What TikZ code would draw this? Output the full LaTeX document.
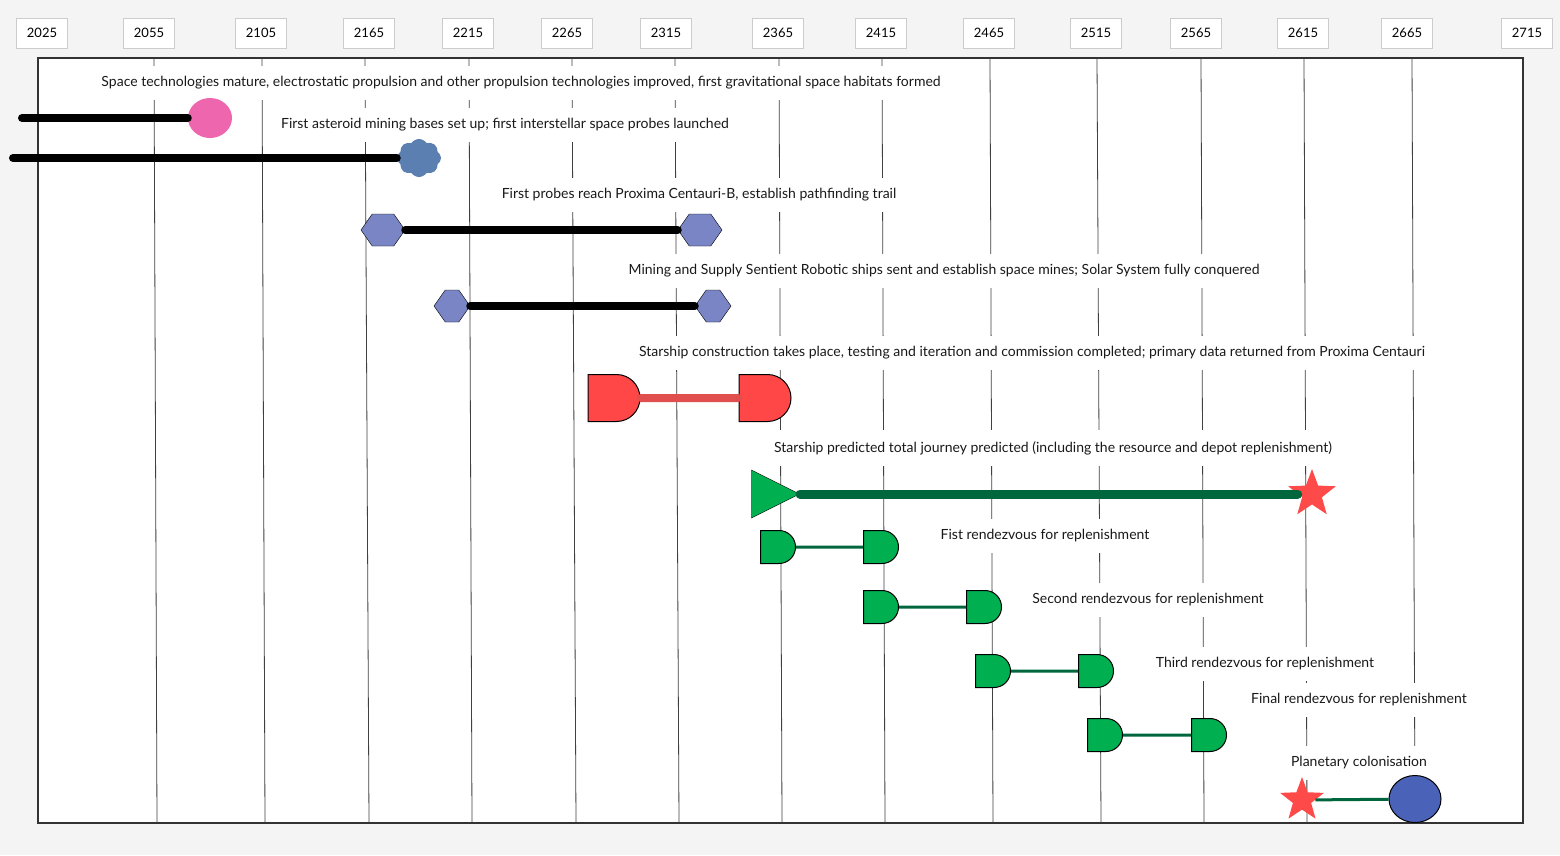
\documentclass[tikz,border=0pt]{standalone}
\usepackage{fontspec}
\setmainfont{Lato}
\usepackage{tikz}
\usetikzlibrary{shapes.geometric, shapes.symbols, shapes.misc}
\definecolor{pagegray}{HTML}{F4F4F4}
\definecolor{pinkdot}{HTML}{EE66AE}
\definecolor{cloudblue}{HTML}{5B7FB0}
\definecolor{hexblue}{HTML}{7A85C6}
\definecolor{gatered}{HTML}{FF4747}
\definecolor{barred}{HTML}{E04E4E}
\definecolor{gategreen}{HTML}{00B050}
\definecolor{bargreen}{HTML}{00663D}
\definecolor{starred}{HTML}{FF4A4A}
\definecolor{planetblue}{HTML}{4A63B8}
\tikzset{
  yearbox/.style={ draw=black!20, fill=white, minimum width=51, minimum height=30, inner sep=0, font=\fontsize{13}{14}\selectfont }
}
\tikzset{
  caption/.style={ fill=white, inner xsep=4, inner ysep=11, text=black!90 }
}
\tikzset{
  gridline/.style={ black!75, line width=0.8 }
}
\tikzset{
  hexa/.style={ signal, signal to=east and west, signal pointer angle=110, draw, fill=hexblue, minimum height=32, inner sep=0 }
}
\tikzset{
  dgate/.style={ rounded rectangle, rounded rectangle left arc=none, draw, line width=1, inner sep=0 }
}
\tikzset{
  blackbar/.style={ line width=8, line cap=round, black }
}
\tikzset{
  redbar/.style={ line width=8, line cap=round, barred }
}
\tikzset{
  greenbar/.style={ line width=9, line cap=round, bargreen }
}
\tikzset{
  greenlink/.style={ line width=3, bargreen }
}
\tikzset{
  redstar/.style={ star, star points=5, star point ratio=2.4, fill=starred, inner sep=0 }
}
\begin{document}
\begin{tikzpicture}[x=1pt, y=-1pt, font=\fontsize{14}{16}\selectfont]
  \useasboundingbox (0,0) rectangle (1560,855);
  \fill[pagegray] (0,0) rectangle (1560,855);
  \draw[black!80, fill=white, line width=1.5] (38,58) rectangle (1523,823);
  % time grid
  \draw[gridline] (154,58) -- (157,823);
  \draw[gridline] (262,58) -- (265,823);
  \draw[gridline] (365,58) -- (369,823);
  \draw[gridline] (469,58) -- (472,823);
  \draw[gridline] (572,58) -- (576,823);
  \draw[gridline] (675,58) -- (679,823);
  \draw[gridline] (779,58) -- (782,823);
  \draw[gridline] (882,58) -- (885,823);
  \draw[gridline] (990,58) -- (993,823);
  \draw[gridline] (1097,58) -- (1101,823);
  \draw[gridline] (1201,58) -- (1204,823);
  \draw[gridline] (1304,58) -- (1307,823);
  \draw[gridline] (1412,58) -- (1415,823);
  % years
  \node[yearbox] (y2025) at (42,33) {2025};
  \node[yearbox] (y2055) at (149,33) {2055};
  \node[yearbox] (y2105) at (261,33) {2105};
  \node[yearbox] (y2165) at (369,33) {2165};
  \node[yearbox] (y2215) at (468,33) {2215};
  \node[yearbox] (y2265) at (567,33) {2265};
  \node[yearbox] (y2315) at (666,33) {2315};
  \node[yearbox] (y2365) at (778,33) {2365};
  \node[yearbox] (y2415) at (881,33) {2415};
  \node[yearbox] (y2465) at (989,33) {2465};
  \node[yearbox] (y2515) at (1096,33) {2515};
  \node[yearbox] (y2565) at (1196,33) {2565};
  \node[yearbox] (y2615) at (1303,33) {2615};
  \node[yearbox] (y2665) at (1407,33) {2665};
  \node[yearbox] (y2715) at (1527,33) {2715};
  % captions
  \node[caption] (t1) at (521,83) {Space technologies mature, electrostatic propulsion and other propulsion technologies improved, first gravitational space habitats formed};
  \node[caption] (t2) at (505,125) {First asteroid mining bases set up; first interstellar space probes launched};
  \node[caption] (t3) at (699,195) {First probes reach Proxima Centauri-B, establish pathfinding trail};
  \node[caption] (t4) at (944,271) {Mining and Supply Sentient Robotic ships sent and establish space mines; Solar System fully conquered};
  \node[caption] (t5) at (1032,353) {Starship construction takes place, testing and iteration and commission completed; primary data returned from Proxima Centauri};
  \node[caption] (t6) at (1053,448) {Starship predicted total journey predicted (including the resource and depot replenishment)};
  \node[caption] (t7) at (1045,536) {Fist rendezvous for replenishment};
  \node[caption] (t8) at (1148,600) {Second rendezvous for replenishment};
  \node[caption] (t9) at (1265,664) {Third rendezvous for replenishment};
  \node[caption] (t10) at (1359,700) {Final rendezvous for replenishment};
  \node[caption] (t11) at (1359,763) {Planetary colonisation};
  % milestones
  \coordinate (s1) at (22,118);
  \node[ellipse, fill=pinkdot, minimum width=44, minimum height=40, inner sep=0] (pk) at (210,118) {};
  \coordinate (s2) at (13,158);
  \node[cloud, cloud puffs=8, cloud puff arc=115, fill=cloudblue, minimum width=44, minimum height=38, inner sep=0] (cl) at (419,158) {};
  \node[hexa, minimum width=44] (hx1) at (383,230) {};
  \node[hexa, minimum width=44] (hx2) at (700,230) {};
  \node[hexa, minimum width=36] (hx3) at (452,306) {};
  \node[hexa, minimum width=36] (hx4) at (713,306) {};
  \node[dgate, fill=gatered, minimum width=52, minimum height=47] (r1) at (614,398) {};
  \node[dgate, fill=gatered, minimum width=52, minimum height=47] (r2) at (765,398) {};
  \node[isosceles triangle, isosceles triangle stretches, draw, fill=gategreen, minimum width=48, minimum height=48, inner sep=0, anchor=apex] (go) at (800,494) {};
  \node[redstar, minimum size=50] (arr) at (1312,494) {};
  \node[dgate, fill=gategreen, minimum width=35, minimum height=33] (g1) at (778,547) {};
  \node[dgate, fill=gategreen, minimum width=35, minimum height=33] (g2) at (881,547) {};
  \node[dgate, fill=gategreen, minimum width=35, minimum height=33] (g3) at (881,607) {};
  \node[dgate, fill=gategreen, minimum width=35, minimum height=33] (g4) at (984,607) {};
  \node[dgate, fill=gategreen, minimum width=35, minimum height=33] (g5) at (993,671) {};
  \node[dgate, fill=gategreen, minimum width=35, minimum height=33] (g6) at (1096,671) {};
  \node[dgate, fill=gategreen, minimum width=35, minimum height=33] (g7) at (1105,735) {};
  \node[dgate, fill=gategreen, minimum width=35, minimum height=33] (g8) at (1209,735) {};
  \node[redstar, minimum size=46] (land) at (1302,800) {};
  \node[ellipse, draw, line width=1, fill=planetblue, minimum width=52, minimum height=47, inner sep=0] (pl) at (1415,799) {};
  % spans
  \draw[blackbar] (s1) -- (pk);
  \draw[blackbar] (s2) -- (cl);
  \draw[blackbar] (hx1) -- (hx2);
  \draw[blackbar] (hx3) -- (hx4);
  \draw[redbar] (r1) -- (r2);
  \draw[greenbar] (go.apex) -- (arr);
  \draw[greenlink] (g1) -- (g2);
  \draw[greenlink] (g3) -- (g4);
  \draw[greenlink] (g5) -- (g6);
  \draw[greenlink] (g7) -- (g8);
  \draw[greenlink] (land) -- (pl);
\end{tikzpicture}
\end{document}
